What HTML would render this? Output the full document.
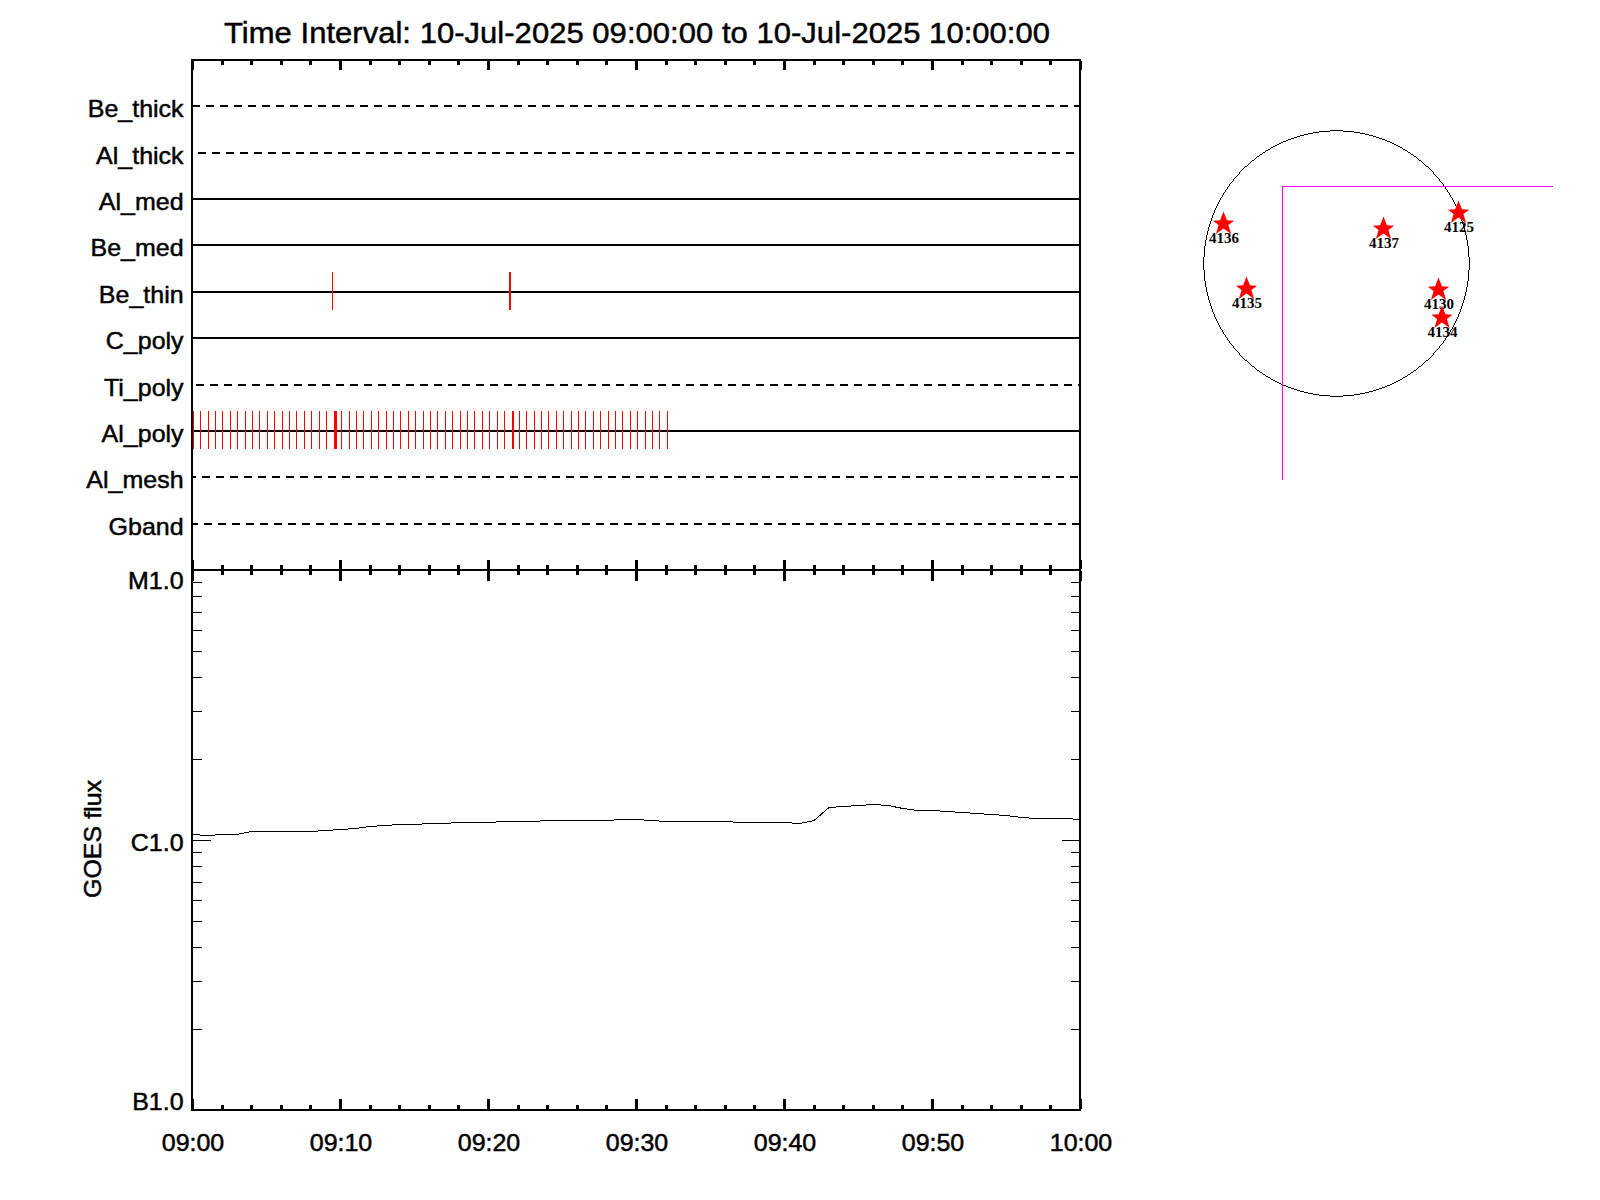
<!DOCTYPE html>
<html><head><meta charset="utf-8"><title>plot</title>
<style>html,body{margin:0;padding:0;background:#fff;width:1600px;height:1200px;overflow:hidden}svg{display:block}</style>
</head><body>
<svg width="1600" height="1200" viewBox="0 0 1600 1200">
<rect x="0" y="0" width="1600" height="1200" fill="#fff"/>
<text transform="translate(224,43) scale(1,0.955)" font-family="Liberation Sans, sans-serif" stroke="#000" stroke-width="0.5" font-size="31" text-anchor="start" textLength="826" lengthAdjust="spacing">Time Interval: 10-Jul-2025 09:00:00 to 10-Jul-2025 10:00:00</text>
<rect x="191" y="59" width="890" height="2" fill="#000"/>
<rect x="191" y="59" width="2" height="1052" fill="#000"/>
<rect x="1079" y="59" width="2" height="1052" fill="#000"/>
<rect x="192" y="569" width="889" height="2" fill="#000"/>
<rect x="192" y="1109" width="889" height="2" fill="#000"/>
<rect x="191" y="61" width="3" height="9" fill="#000"/>
<rect x="191" y="560" width="3" height="9" fill="#000"/>
<rect x="191" y="571" width="3" height="10" fill="#000"/>
<rect x="191" y="1099" width="3" height="10" fill="#000"/>
<rect x="221" y="61" width="3" height="4" fill="#000"/>
<rect x="221" y="565" width="3" height="4" fill="#000"/>
<rect x="221" y="571" width="3" height="4" fill="#000"/>
<rect x="221" y="1105" width="3" height="4" fill="#000"/>
<rect x="250" y="61" width="3" height="4" fill="#000"/>
<rect x="250" y="565" width="3" height="4" fill="#000"/>
<rect x="250" y="571" width="3" height="4" fill="#000"/>
<rect x="250" y="1105" width="3" height="4" fill="#000"/>
<rect x="280" y="61" width="3" height="4" fill="#000"/>
<rect x="280" y="565" width="3" height="4" fill="#000"/>
<rect x="280" y="571" width="3" height="4" fill="#000"/>
<rect x="280" y="1105" width="3" height="4" fill="#000"/>
<rect x="309" y="61" width="3" height="4" fill="#000"/>
<rect x="309" y="565" width="3" height="4" fill="#000"/>
<rect x="309" y="571" width="3" height="4" fill="#000"/>
<rect x="309" y="1105" width="3" height="4" fill="#000"/>
<rect x="339" y="61" width="3" height="9" fill="#000"/>
<rect x="339" y="560" width="3" height="9" fill="#000"/>
<rect x="339" y="571" width="3" height="10" fill="#000"/>
<rect x="339" y="1099" width="3" height="10" fill="#000"/>
<rect x="369" y="61" width="3" height="4" fill="#000"/>
<rect x="369" y="565" width="3" height="4" fill="#000"/>
<rect x="369" y="571" width="3" height="4" fill="#000"/>
<rect x="369" y="1105" width="3" height="4" fill="#000"/>
<rect x="398" y="61" width="3" height="4" fill="#000"/>
<rect x="398" y="565" width="3" height="4" fill="#000"/>
<rect x="398" y="571" width="3" height="4" fill="#000"/>
<rect x="398" y="1105" width="3" height="4" fill="#000"/>
<rect x="428" y="61" width="3" height="4" fill="#000"/>
<rect x="428" y="565" width="3" height="4" fill="#000"/>
<rect x="428" y="571" width="3" height="4" fill="#000"/>
<rect x="428" y="1105" width="3" height="4" fill="#000"/>
<rect x="457" y="61" width="3" height="4" fill="#000"/>
<rect x="457" y="565" width="3" height="4" fill="#000"/>
<rect x="457" y="571" width="3" height="4" fill="#000"/>
<rect x="457" y="1105" width="3" height="4" fill="#000"/>
<rect x="487" y="61" width="3" height="9" fill="#000"/>
<rect x="487" y="560" width="3" height="9" fill="#000"/>
<rect x="487" y="571" width="3" height="10" fill="#000"/>
<rect x="487" y="1099" width="3" height="10" fill="#000"/>
<rect x="517" y="61" width="3" height="4" fill="#000"/>
<rect x="517" y="565" width="3" height="4" fill="#000"/>
<rect x="517" y="571" width="3" height="4" fill="#000"/>
<rect x="517" y="1105" width="3" height="4" fill="#000"/>
<rect x="546" y="61" width="3" height="4" fill="#000"/>
<rect x="546" y="565" width="3" height="4" fill="#000"/>
<rect x="546" y="571" width="3" height="4" fill="#000"/>
<rect x="546" y="1105" width="3" height="4" fill="#000"/>
<rect x="576" y="61" width="3" height="4" fill="#000"/>
<rect x="576" y="565" width="3" height="4" fill="#000"/>
<rect x="576" y="571" width="3" height="4" fill="#000"/>
<rect x="576" y="1105" width="3" height="4" fill="#000"/>
<rect x="605" y="61" width="3" height="4" fill="#000"/>
<rect x="605" y="565" width="3" height="4" fill="#000"/>
<rect x="605" y="571" width="3" height="4" fill="#000"/>
<rect x="605" y="1105" width="3" height="4" fill="#000"/>
<rect x="635" y="61" width="3" height="9" fill="#000"/>
<rect x="635" y="560" width="3" height="9" fill="#000"/>
<rect x="635" y="571" width="3" height="10" fill="#000"/>
<rect x="635" y="1099" width="3" height="10" fill="#000"/>
<rect x="665" y="61" width="3" height="4" fill="#000"/>
<rect x="665" y="565" width="3" height="4" fill="#000"/>
<rect x="665" y="571" width="3" height="4" fill="#000"/>
<rect x="665" y="1105" width="3" height="4" fill="#000"/>
<rect x="694" y="61" width="3" height="4" fill="#000"/>
<rect x="694" y="565" width="3" height="4" fill="#000"/>
<rect x="694" y="571" width="3" height="4" fill="#000"/>
<rect x="694" y="1105" width="3" height="4" fill="#000"/>
<rect x="724" y="61" width="3" height="4" fill="#000"/>
<rect x="724" y="565" width="3" height="4" fill="#000"/>
<rect x="724" y="571" width="3" height="4" fill="#000"/>
<rect x="724" y="1105" width="3" height="4" fill="#000"/>
<rect x="753" y="61" width="3" height="4" fill="#000"/>
<rect x="753" y="565" width="3" height="4" fill="#000"/>
<rect x="753" y="571" width="3" height="4" fill="#000"/>
<rect x="753" y="1105" width="3" height="4" fill="#000"/>
<rect x="783" y="61" width="3" height="9" fill="#000"/>
<rect x="783" y="560" width="3" height="9" fill="#000"/>
<rect x="783" y="571" width="3" height="10" fill="#000"/>
<rect x="783" y="1099" width="3" height="10" fill="#000"/>
<rect x="813" y="61" width="3" height="4" fill="#000"/>
<rect x="813" y="565" width="3" height="4" fill="#000"/>
<rect x="813" y="571" width="3" height="4" fill="#000"/>
<rect x="813" y="1105" width="3" height="4" fill="#000"/>
<rect x="842" y="61" width="3" height="4" fill="#000"/>
<rect x="842" y="565" width="3" height="4" fill="#000"/>
<rect x="842" y="571" width="3" height="4" fill="#000"/>
<rect x="842" y="1105" width="3" height="4" fill="#000"/>
<rect x="872" y="61" width="3" height="4" fill="#000"/>
<rect x="872" y="565" width="3" height="4" fill="#000"/>
<rect x="872" y="571" width="3" height="4" fill="#000"/>
<rect x="872" y="1105" width="3" height="4" fill="#000"/>
<rect x="901" y="61" width="3" height="4" fill="#000"/>
<rect x="901" y="565" width="3" height="4" fill="#000"/>
<rect x="901" y="571" width="3" height="4" fill="#000"/>
<rect x="901" y="1105" width="3" height="4" fill="#000"/>
<rect x="931" y="61" width="3" height="9" fill="#000"/>
<rect x="931" y="560" width="3" height="9" fill="#000"/>
<rect x="931" y="571" width="3" height="10" fill="#000"/>
<rect x="931" y="1099" width="3" height="10" fill="#000"/>
<rect x="961" y="61" width="3" height="4" fill="#000"/>
<rect x="961" y="565" width="3" height="4" fill="#000"/>
<rect x="961" y="571" width="3" height="4" fill="#000"/>
<rect x="961" y="1105" width="3" height="4" fill="#000"/>
<rect x="990" y="61" width="3" height="4" fill="#000"/>
<rect x="990" y="565" width="3" height="4" fill="#000"/>
<rect x="990" y="571" width="3" height="4" fill="#000"/>
<rect x="990" y="1105" width="3" height="4" fill="#000"/>
<rect x="1020" y="61" width="3" height="4" fill="#000"/>
<rect x="1020" y="565" width="3" height="4" fill="#000"/>
<rect x="1020" y="571" width="3" height="4" fill="#000"/>
<rect x="1020" y="1105" width="3" height="4" fill="#000"/>
<rect x="1049" y="61" width="3" height="4" fill="#000"/>
<rect x="1049" y="565" width="3" height="4" fill="#000"/>
<rect x="1049" y="571" width="3" height="4" fill="#000"/>
<rect x="1049" y="1105" width="3" height="4" fill="#000"/>
<rect x="1079" y="61" width="3" height="9" fill="#000"/>
<rect x="1079" y="560" width="3" height="9" fill="#000"/>
<rect x="1079" y="571" width="3" height="10" fill="#000"/>
<rect x="1079" y="1099" width="3" height="10" fill="#000"/>
<rect x="193" y="105" width="7" height="2" fill="#000"/>
<rect x="206" y="105" width="8" height="2" fill="#000"/>
<rect x="220" y="105" width="8" height="2" fill="#000"/>
<rect x="234" y="105" width="8" height="2" fill="#000"/>
<rect x="248" y="105" width="8" height="2" fill="#000"/>
<rect x="262" y="105" width="8" height="2" fill="#000"/>
<rect x="276" y="105" width="8" height="2" fill="#000"/>
<rect x="290" y="105" width="8" height="2" fill="#000"/>
<rect x="304" y="105" width="8" height="2" fill="#000"/>
<rect x="318" y="105" width="8" height="2" fill="#000"/>
<rect x="332" y="105" width="8" height="2" fill="#000"/>
<rect x="346" y="105" width="8" height="2" fill="#000"/>
<rect x="360" y="105" width="8" height="2" fill="#000"/>
<rect x="374" y="105" width="8" height="2" fill="#000"/>
<rect x="388" y="105" width="8" height="2" fill="#000"/>
<rect x="402" y="105" width="8" height="2" fill="#000"/>
<rect x="416" y="105" width="8" height="2" fill="#000"/>
<rect x="430" y="105" width="8" height="2" fill="#000"/>
<rect x="444" y="105" width="8" height="2" fill="#000"/>
<rect x="458" y="105" width="8" height="2" fill="#000"/>
<rect x="472" y="105" width="8" height="2" fill="#000"/>
<rect x="486" y="105" width="8" height="2" fill="#000"/>
<rect x="500" y="105" width="8" height="2" fill="#000"/>
<rect x="514" y="105" width="8" height="2" fill="#000"/>
<rect x="528" y="105" width="8" height="2" fill="#000"/>
<rect x="542" y="105" width="8" height="2" fill="#000"/>
<rect x="556" y="105" width="8" height="2" fill="#000"/>
<rect x="570" y="105" width="8" height="2" fill="#000"/>
<rect x="584" y="105" width="8" height="2" fill="#000"/>
<rect x="598" y="105" width="8" height="2" fill="#000"/>
<rect x="612" y="105" width="8" height="2" fill="#000"/>
<rect x="626" y="105" width="8" height="2" fill="#000"/>
<rect x="640" y="105" width="8" height="2" fill="#000"/>
<rect x="654" y="105" width="8" height="2" fill="#000"/>
<rect x="668" y="105" width="8" height="2" fill="#000"/>
<rect x="682" y="105" width="8" height="2" fill="#000"/>
<rect x="696" y="105" width="8" height="2" fill="#000"/>
<rect x="710" y="105" width="8" height="2" fill="#000"/>
<rect x="724" y="105" width="8" height="2" fill="#000"/>
<rect x="738" y="105" width="8" height="2" fill="#000"/>
<rect x="752" y="105" width="8" height="2" fill="#000"/>
<rect x="766" y="105" width="8" height="2" fill="#000"/>
<rect x="780" y="105" width="8" height="2" fill="#000"/>
<rect x="794" y="105" width="8" height="2" fill="#000"/>
<rect x="808" y="105" width="8" height="2" fill="#000"/>
<rect x="822" y="105" width="8" height="2" fill="#000"/>
<rect x="836" y="105" width="8" height="2" fill="#000"/>
<rect x="850" y="105" width="8" height="2" fill="#000"/>
<rect x="864" y="105" width="8" height="2" fill="#000"/>
<rect x="878" y="105" width="8" height="2" fill="#000"/>
<rect x="892" y="105" width="8" height="2" fill="#000"/>
<rect x="906" y="105" width="8" height="2" fill="#000"/>
<rect x="920" y="105" width="8" height="2" fill="#000"/>
<rect x="934" y="105" width="8" height="2" fill="#000"/>
<rect x="948" y="105" width="8" height="2" fill="#000"/>
<rect x="962" y="105" width="8" height="2" fill="#000"/>
<rect x="976" y="105" width="8" height="2" fill="#000"/>
<rect x="990" y="105" width="8" height="2" fill="#000"/>
<rect x="1004" y="105" width="8" height="2" fill="#000"/>
<rect x="1018" y="105" width="8" height="2" fill="#000"/>
<rect x="1032" y="105" width="8" height="2" fill="#000"/>
<rect x="1046" y="105" width="8" height="2" fill="#000"/>
<rect x="1060" y="105" width="8" height="2" fill="#000"/>
<rect x="1074" y="105" width="5" height="2" fill="#000"/>
<text transform="translate(183.6,117) scale(1,0.955)" font-family="Liberation Sans, sans-serif" stroke="#000" stroke-width="0.5" font-size="25" text-anchor="end" >Be_thick</text>
<rect x="198" y="152" width="8" height="2" fill="#000"/>
<rect x="212" y="152" width="8" height="2" fill="#000"/>
<rect x="226" y="152" width="8" height="2" fill="#000"/>
<rect x="240" y="152" width="8" height="2" fill="#000"/>
<rect x="254" y="152" width="8" height="2" fill="#000"/>
<rect x="268" y="152" width="8" height="2" fill="#000"/>
<rect x="282" y="152" width="8" height="2" fill="#000"/>
<rect x="296" y="152" width="8" height="2" fill="#000"/>
<rect x="310" y="152" width="8" height="2" fill="#000"/>
<rect x="324" y="152" width="8" height="2" fill="#000"/>
<rect x="338" y="152" width="8" height="2" fill="#000"/>
<rect x="352" y="152" width="8" height="2" fill="#000"/>
<rect x="366" y="152" width="8" height="2" fill="#000"/>
<rect x="380" y="152" width="8" height="2" fill="#000"/>
<rect x="394" y="152" width="8" height="2" fill="#000"/>
<rect x="408" y="152" width="8" height="2" fill="#000"/>
<rect x="422" y="152" width="8" height="2" fill="#000"/>
<rect x="436" y="152" width="8" height="2" fill="#000"/>
<rect x="450" y="152" width="8" height="2" fill="#000"/>
<rect x="464" y="152" width="8" height="2" fill="#000"/>
<rect x="478" y="152" width="8" height="2" fill="#000"/>
<rect x="492" y="152" width="8" height="2" fill="#000"/>
<rect x="506" y="152" width="8" height="2" fill="#000"/>
<rect x="520" y="152" width="8" height="2" fill="#000"/>
<rect x="534" y="152" width="8" height="2" fill="#000"/>
<rect x="548" y="152" width="8" height="2" fill="#000"/>
<rect x="562" y="152" width="8" height="2" fill="#000"/>
<rect x="576" y="152" width="8" height="2" fill="#000"/>
<rect x="590" y="152" width="8" height="2" fill="#000"/>
<rect x="604" y="152" width="8" height="2" fill="#000"/>
<rect x="618" y="152" width="8" height="2" fill="#000"/>
<rect x="632" y="152" width="8" height="2" fill="#000"/>
<rect x="646" y="152" width="8" height="2" fill="#000"/>
<rect x="660" y="152" width="8" height="2" fill="#000"/>
<rect x="674" y="152" width="8" height="2" fill="#000"/>
<rect x="688" y="152" width="8" height="2" fill="#000"/>
<rect x="702" y="152" width="8" height="2" fill="#000"/>
<rect x="716" y="152" width="8" height="2" fill="#000"/>
<rect x="730" y="152" width="8" height="2" fill="#000"/>
<rect x="744" y="152" width="8" height="2" fill="#000"/>
<rect x="758" y="152" width="8" height="2" fill="#000"/>
<rect x="772" y="152" width="8" height="2" fill="#000"/>
<rect x="786" y="152" width="8" height="2" fill="#000"/>
<rect x="800" y="152" width="8" height="2" fill="#000"/>
<rect x="814" y="152" width="8" height="2" fill="#000"/>
<rect x="828" y="152" width="8" height="2" fill="#000"/>
<rect x="842" y="152" width="8" height="2" fill="#000"/>
<rect x="856" y="152" width="8" height="2" fill="#000"/>
<rect x="870" y="152" width="8" height="2" fill="#000"/>
<rect x="884" y="152" width="8" height="2" fill="#000"/>
<rect x="898" y="152" width="8" height="2" fill="#000"/>
<rect x="912" y="152" width="8" height="2" fill="#000"/>
<rect x="926" y="152" width="8" height="2" fill="#000"/>
<rect x="940" y="152" width="8" height="2" fill="#000"/>
<rect x="954" y="152" width="8" height="2" fill="#000"/>
<rect x="968" y="152" width="8" height="2" fill="#000"/>
<rect x="982" y="152" width="8" height="2" fill="#000"/>
<rect x="996" y="152" width="8" height="2" fill="#000"/>
<rect x="1010" y="152" width="8" height="2" fill="#000"/>
<rect x="1024" y="152" width="8" height="2" fill="#000"/>
<rect x="1038" y="152" width="8" height="2" fill="#000"/>
<rect x="1052" y="152" width="8" height="2" fill="#000"/>
<rect x="1066" y="152" width="8" height="2" fill="#000"/>
<text transform="translate(183.6,164) scale(1,0.955)" font-family="Liberation Sans, sans-serif" stroke="#000" stroke-width="0.5" font-size="25" text-anchor="end" >Al_thick</text>
<rect x="193" y="198" width="886" height="2" fill="#000"/>
<text transform="translate(183.6,210) scale(1,0.955)" font-family="Liberation Sans, sans-serif" stroke="#000" stroke-width="0.5" font-size="25" text-anchor="end" >Al_med</text>
<rect x="193" y="244" width="886" height="2" fill="#000"/>
<text transform="translate(183.6,256) scale(1,0.955)" font-family="Liberation Sans, sans-serif" stroke="#000" stroke-width="0.5" font-size="25" text-anchor="end" >Be_med</text>
<rect x="193" y="291" width="886" height="2" fill="#000"/>
<text transform="translate(183.6,303) scale(1,0.955)" font-family="Liberation Sans, sans-serif" stroke="#000" stroke-width="0.5" font-size="25" text-anchor="end" >Be_thin</text>
<rect x="193" y="337" width="886" height="2" fill="#000"/>
<text transform="translate(183.6,349) scale(1,0.955)" font-family="Liberation Sans, sans-serif" stroke="#000" stroke-width="0.5" font-size="25" text-anchor="end" >C_poly</text>
<rect x="196" y="384" width="8" height="2" fill="#000"/>
<rect x="210" y="384" width="8" height="2" fill="#000"/>
<rect x="224" y="384" width="8" height="2" fill="#000"/>
<rect x="238" y="384" width="8" height="2" fill="#000"/>
<rect x="252" y="384" width="8" height="2" fill="#000"/>
<rect x="266" y="384" width="8" height="2" fill="#000"/>
<rect x="280" y="384" width="8" height="2" fill="#000"/>
<rect x="294" y="384" width="8" height="2" fill="#000"/>
<rect x="308" y="384" width="8" height="2" fill="#000"/>
<rect x="322" y="384" width="8" height="2" fill="#000"/>
<rect x="336" y="384" width="8" height="2" fill="#000"/>
<rect x="350" y="384" width="8" height="2" fill="#000"/>
<rect x="364" y="384" width="8" height="2" fill="#000"/>
<rect x="378" y="384" width="8" height="2" fill="#000"/>
<rect x="392" y="384" width="8" height="2" fill="#000"/>
<rect x="406" y="384" width="8" height="2" fill="#000"/>
<rect x="420" y="384" width="8" height="2" fill="#000"/>
<rect x="434" y="384" width="8" height="2" fill="#000"/>
<rect x="448" y="384" width="8" height="2" fill="#000"/>
<rect x="462" y="384" width="8" height="2" fill="#000"/>
<rect x="476" y="384" width="8" height="2" fill="#000"/>
<rect x="490" y="384" width="8" height="2" fill="#000"/>
<rect x="504" y="384" width="8" height="2" fill="#000"/>
<rect x="518" y="384" width="8" height="2" fill="#000"/>
<rect x="532" y="384" width="8" height="2" fill="#000"/>
<rect x="546" y="384" width="8" height="2" fill="#000"/>
<rect x="560" y="384" width="8" height="2" fill="#000"/>
<rect x="574" y="384" width="8" height="2" fill="#000"/>
<rect x="588" y="384" width="8" height="2" fill="#000"/>
<rect x="602" y="384" width="8" height="2" fill="#000"/>
<rect x="616" y="384" width="8" height="2" fill="#000"/>
<rect x="630" y="384" width="8" height="2" fill="#000"/>
<rect x="644" y="384" width="8" height="2" fill="#000"/>
<rect x="658" y="384" width="8" height="2" fill="#000"/>
<rect x="672" y="384" width="8" height="2" fill="#000"/>
<rect x="686" y="384" width="8" height="2" fill="#000"/>
<rect x="700" y="384" width="8" height="2" fill="#000"/>
<rect x="714" y="384" width="8" height="2" fill="#000"/>
<rect x="728" y="384" width="8" height="2" fill="#000"/>
<rect x="742" y="384" width="8" height="2" fill="#000"/>
<rect x="756" y="384" width="8" height="2" fill="#000"/>
<rect x="770" y="384" width="8" height="2" fill="#000"/>
<rect x="784" y="384" width="8" height="2" fill="#000"/>
<rect x="798" y="384" width="8" height="2" fill="#000"/>
<rect x="812" y="384" width="8" height="2" fill="#000"/>
<rect x="826" y="384" width="8" height="2" fill="#000"/>
<rect x="840" y="384" width="8" height="2" fill="#000"/>
<rect x="854" y="384" width="8" height="2" fill="#000"/>
<rect x="868" y="384" width="8" height="2" fill="#000"/>
<rect x="882" y="384" width="8" height="2" fill="#000"/>
<rect x="896" y="384" width="8" height="2" fill="#000"/>
<rect x="910" y="384" width="8" height="2" fill="#000"/>
<rect x="924" y="384" width="8" height="2" fill="#000"/>
<rect x="938" y="384" width="8" height="2" fill="#000"/>
<rect x="952" y="384" width="8" height="2" fill="#000"/>
<rect x="966" y="384" width="8" height="2" fill="#000"/>
<rect x="980" y="384" width="8" height="2" fill="#000"/>
<rect x="994" y="384" width="8" height="2" fill="#000"/>
<rect x="1008" y="384" width="8" height="2" fill="#000"/>
<rect x="1022" y="384" width="8" height="2" fill="#000"/>
<rect x="1036" y="384" width="8" height="2" fill="#000"/>
<rect x="1050" y="384" width="8" height="2" fill="#000"/>
<rect x="1064" y="384" width="8" height="2" fill="#000"/>
<rect x="1078" y="384" width="1" height="2" fill="#000"/>
<text transform="translate(183.6,396) scale(1,0.955)" font-family="Liberation Sans, sans-serif" stroke="#000" stroke-width="0.5" font-size="25" text-anchor="end" >Ti_poly</text>
<rect x="193" y="430" width="886" height="2" fill="#000"/>
<text transform="translate(183.6,442) scale(1,0.955)" font-family="Liberation Sans, sans-serif" stroke="#000" stroke-width="0.5" font-size="25" text-anchor="end" >Al_poly</text>
<rect x="193" y="476" width="3" height="2" fill="#000"/>
<rect x="202" y="476" width="8" height="2" fill="#000"/>
<rect x="216" y="476" width="8" height="2" fill="#000"/>
<rect x="230" y="476" width="8" height="2" fill="#000"/>
<rect x="244" y="476" width="8" height="2" fill="#000"/>
<rect x="258" y="476" width="8" height="2" fill="#000"/>
<rect x="272" y="476" width="8" height="2" fill="#000"/>
<rect x="286" y="476" width="8" height="2" fill="#000"/>
<rect x="300" y="476" width="8" height="2" fill="#000"/>
<rect x="314" y="476" width="8" height="2" fill="#000"/>
<rect x="328" y="476" width="8" height="2" fill="#000"/>
<rect x="342" y="476" width="8" height="2" fill="#000"/>
<rect x="356" y="476" width="8" height="2" fill="#000"/>
<rect x="370" y="476" width="8" height="2" fill="#000"/>
<rect x="384" y="476" width="8" height="2" fill="#000"/>
<rect x="398" y="476" width="8" height="2" fill="#000"/>
<rect x="412" y="476" width="8" height="2" fill="#000"/>
<rect x="426" y="476" width="8" height="2" fill="#000"/>
<rect x="440" y="476" width="8" height="2" fill="#000"/>
<rect x="454" y="476" width="8" height="2" fill="#000"/>
<rect x="468" y="476" width="8" height="2" fill="#000"/>
<rect x="482" y="476" width="8" height="2" fill="#000"/>
<rect x="496" y="476" width="8" height="2" fill="#000"/>
<rect x="510" y="476" width="8" height="2" fill="#000"/>
<rect x="524" y="476" width="8" height="2" fill="#000"/>
<rect x="538" y="476" width="8" height="2" fill="#000"/>
<rect x="552" y="476" width="8" height="2" fill="#000"/>
<rect x="566" y="476" width="8" height="2" fill="#000"/>
<rect x="580" y="476" width="8" height="2" fill="#000"/>
<rect x="594" y="476" width="8" height="2" fill="#000"/>
<rect x="608" y="476" width="8" height="2" fill="#000"/>
<rect x="622" y="476" width="8" height="2" fill="#000"/>
<rect x="636" y="476" width="8" height="2" fill="#000"/>
<rect x="650" y="476" width="8" height="2" fill="#000"/>
<rect x="664" y="476" width="8" height="2" fill="#000"/>
<rect x="678" y="476" width="8" height="2" fill="#000"/>
<rect x="692" y="476" width="8" height="2" fill="#000"/>
<rect x="706" y="476" width="8" height="2" fill="#000"/>
<rect x="720" y="476" width="8" height="2" fill="#000"/>
<rect x="734" y="476" width="8" height="2" fill="#000"/>
<rect x="748" y="476" width="8" height="2" fill="#000"/>
<rect x="762" y="476" width="8" height="2" fill="#000"/>
<rect x="776" y="476" width="8" height="2" fill="#000"/>
<rect x="790" y="476" width="8" height="2" fill="#000"/>
<rect x="804" y="476" width="8" height="2" fill="#000"/>
<rect x="818" y="476" width="8" height="2" fill="#000"/>
<rect x="832" y="476" width="8" height="2" fill="#000"/>
<rect x="846" y="476" width="8" height="2" fill="#000"/>
<rect x="860" y="476" width="8" height="2" fill="#000"/>
<rect x="874" y="476" width="8" height="2" fill="#000"/>
<rect x="888" y="476" width="8" height="2" fill="#000"/>
<rect x="902" y="476" width="8" height="2" fill="#000"/>
<rect x="916" y="476" width="8" height="2" fill="#000"/>
<rect x="930" y="476" width="8" height="2" fill="#000"/>
<rect x="944" y="476" width="8" height="2" fill="#000"/>
<rect x="958" y="476" width="8" height="2" fill="#000"/>
<rect x="972" y="476" width="8" height="2" fill="#000"/>
<rect x="986" y="476" width="8" height="2" fill="#000"/>
<rect x="1000" y="476" width="8" height="2" fill="#000"/>
<rect x="1014" y="476" width="8" height="2" fill="#000"/>
<rect x="1028" y="476" width="8" height="2" fill="#000"/>
<rect x="1042" y="476" width="8" height="2" fill="#000"/>
<rect x="1056" y="476" width="8" height="2" fill="#000"/>
<rect x="1070" y="476" width="8" height="2" fill="#000"/>
<text transform="translate(183.6,488) scale(1,0.955)" font-family="Liberation Sans, sans-serif" stroke="#000" stroke-width="0.5" font-size="25" text-anchor="end" >Al_mesh</text>
<rect x="193" y="523" width="5" height="2" fill="#000"/>
<rect x="204" y="523" width="8" height="2" fill="#000"/>
<rect x="218" y="523" width="8" height="2" fill="#000"/>
<rect x="232" y="523" width="8" height="2" fill="#000"/>
<rect x="246" y="523" width="8" height="2" fill="#000"/>
<rect x="260" y="523" width="8" height="2" fill="#000"/>
<rect x="274" y="523" width="8" height="2" fill="#000"/>
<rect x="288" y="523" width="8" height="2" fill="#000"/>
<rect x="302" y="523" width="8" height="2" fill="#000"/>
<rect x="316" y="523" width="8" height="2" fill="#000"/>
<rect x="330" y="523" width="8" height="2" fill="#000"/>
<rect x="344" y="523" width="8" height="2" fill="#000"/>
<rect x="358" y="523" width="8" height="2" fill="#000"/>
<rect x="372" y="523" width="8" height="2" fill="#000"/>
<rect x="386" y="523" width="8" height="2" fill="#000"/>
<rect x="400" y="523" width="8" height="2" fill="#000"/>
<rect x="414" y="523" width="8" height="2" fill="#000"/>
<rect x="428" y="523" width="8" height="2" fill="#000"/>
<rect x="442" y="523" width="8" height="2" fill="#000"/>
<rect x="456" y="523" width="8" height="2" fill="#000"/>
<rect x="470" y="523" width="8" height="2" fill="#000"/>
<rect x="484" y="523" width="8" height="2" fill="#000"/>
<rect x="498" y="523" width="8" height="2" fill="#000"/>
<rect x="512" y="523" width="8" height="2" fill="#000"/>
<rect x="526" y="523" width="8" height="2" fill="#000"/>
<rect x="540" y="523" width="8" height="2" fill="#000"/>
<rect x="554" y="523" width="8" height="2" fill="#000"/>
<rect x="568" y="523" width="8" height="2" fill="#000"/>
<rect x="582" y="523" width="8" height="2" fill="#000"/>
<rect x="596" y="523" width="8" height="2" fill="#000"/>
<rect x="610" y="523" width="8" height="2" fill="#000"/>
<rect x="624" y="523" width="8" height="2" fill="#000"/>
<rect x="638" y="523" width="8" height="2" fill="#000"/>
<rect x="652" y="523" width="8" height="2" fill="#000"/>
<rect x="666" y="523" width="8" height="2" fill="#000"/>
<rect x="680" y="523" width="8" height="2" fill="#000"/>
<rect x="694" y="523" width="8" height="2" fill="#000"/>
<rect x="708" y="523" width="8" height="2" fill="#000"/>
<rect x="722" y="523" width="8" height="2" fill="#000"/>
<rect x="736" y="523" width="8" height="2" fill="#000"/>
<rect x="750" y="523" width="8" height="2" fill="#000"/>
<rect x="764" y="523" width="8" height="2" fill="#000"/>
<rect x="778" y="523" width="8" height="2" fill="#000"/>
<rect x="792" y="523" width="8" height="2" fill="#000"/>
<rect x="806" y="523" width="8" height="2" fill="#000"/>
<rect x="820" y="523" width="8" height="2" fill="#000"/>
<rect x="834" y="523" width="8" height="2" fill="#000"/>
<rect x="848" y="523" width="8" height="2" fill="#000"/>
<rect x="862" y="523" width="8" height="2" fill="#000"/>
<rect x="876" y="523" width="8" height="2" fill="#000"/>
<rect x="890" y="523" width="8" height="2" fill="#000"/>
<rect x="904" y="523" width="8" height="2" fill="#000"/>
<rect x="918" y="523" width="8" height="2" fill="#000"/>
<rect x="932" y="523" width="8" height="2" fill="#000"/>
<rect x="946" y="523" width="8" height="2" fill="#000"/>
<rect x="960" y="523" width="8" height="2" fill="#000"/>
<rect x="974" y="523" width="8" height="2" fill="#000"/>
<rect x="988" y="523" width="8" height="2" fill="#000"/>
<rect x="1002" y="523" width="8" height="2" fill="#000"/>
<rect x="1016" y="523" width="8" height="2" fill="#000"/>
<rect x="1030" y="523" width="8" height="2" fill="#000"/>
<rect x="1044" y="523" width="8" height="2" fill="#000"/>
<rect x="1058" y="523" width="8" height="2" fill="#000"/>
<rect x="1072" y="523" width="7" height="2" fill="#000"/>
<text transform="translate(183.6,535) scale(1,0.955)" font-family="Liberation Sans, sans-serif" stroke="#000" stroke-width="0.5" font-size="25" text-anchor="end" >Gband</text>
<rect x="332" y="272" width="1" height="38" fill="#f00"/>
<rect x="509" y="272" width="2" height="38" fill="#f00"/>
<rect x="193" y="411" width="1" height="38" fill="#f00"/>
<rect x="200" y="411" width="1" height="38" fill="#f00"/>
<rect x="208" y="411" width="1" height="38" fill="#f00"/>
<rect x="215" y="411" width="1" height="38" fill="#f00"/>
<rect x="222" y="411" width="1" height="38" fill="#f00"/>
<rect x="230" y="411" width="1" height="38" fill="#f00"/>
<rect x="237" y="411" width="1" height="38" fill="#f00"/>
<rect x="245" y="411" width="1" height="38" fill="#f00"/>
<rect x="252" y="411" width="1" height="38" fill="#f00"/>
<rect x="259" y="411" width="1" height="38" fill="#f00"/>
<rect x="267" y="411" width="1" height="38" fill="#f00"/>
<rect x="274" y="411" width="1" height="38" fill="#f00"/>
<rect x="282" y="411" width="1" height="38" fill="#f00"/>
<rect x="289" y="411" width="1" height="38" fill="#f00"/>
<rect x="296" y="411" width="1" height="38" fill="#f00"/>
<rect x="304" y="411" width="1" height="38" fill="#f00"/>
<rect x="311" y="411" width="1" height="38" fill="#f00"/>
<rect x="319" y="411" width="1" height="38" fill="#f00"/>
<rect x="326" y="411" width="1" height="38" fill="#f00"/>
<rect x="341" y="411" width="1" height="38" fill="#f00"/>
<rect x="349" y="411" width="1" height="38" fill="#f00"/>
<rect x="356" y="411" width="1" height="38" fill="#f00"/>
<rect x="363" y="411" width="1" height="38" fill="#f00"/>
<rect x="371" y="411" width="1" height="38" fill="#f00"/>
<rect x="378" y="411" width="1" height="38" fill="#f00"/>
<rect x="386" y="411" width="1" height="38" fill="#f00"/>
<rect x="393" y="411" width="1" height="38" fill="#f00"/>
<rect x="400" y="411" width="1" height="38" fill="#f00"/>
<rect x="408" y="411" width="1" height="38" fill="#f00"/>
<rect x="415" y="411" width="1" height="38" fill="#f00"/>
<rect x="423" y="411" width="1" height="38" fill="#f00"/>
<rect x="430" y="411" width="1" height="38" fill="#f00"/>
<rect x="437" y="411" width="1" height="38" fill="#f00"/>
<rect x="445" y="411" width="1" height="38" fill="#f00"/>
<rect x="452" y="411" width="1" height="38" fill="#f00"/>
<rect x="460" y="411" width="1" height="38" fill="#f00"/>
<rect x="467" y="411" width="1" height="38" fill="#f00"/>
<rect x="474" y="411" width="1" height="38" fill="#f00"/>
<rect x="482" y="411" width="1" height="38" fill="#f00"/>
<rect x="489" y="411" width="1" height="38" fill="#f00"/>
<rect x="497" y="411" width="1" height="38" fill="#f00"/>
<rect x="504" y="411" width="1" height="38" fill="#f00"/>
<rect x="519" y="411" width="1" height="38" fill="#f00"/>
<rect x="526" y="411" width="1" height="38" fill="#f00"/>
<rect x="534" y="411" width="1" height="38" fill="#f00"/>
<rect x="541" y="411" width="1" height="38" fill="#f00"/>
<rect x="548" y="411" width="1" height="38" fill="#f00"/>
<rect x="556" y="411" width="1" height="38" fill="#f00"/>
<rect x="563" y="411" width="1" height="38" fill="#f00"/>
<rect x="571" y="411" width="1" height="38" fill="#f00"/>
<rect x="578" y="411" width="1" height="38" fill="#f00"/>
<rect x="585" y="411" width="1" height="38" fill="#f00"/>
<rect x="593" y="411" width="1" height="38" fill="#f00"/>
<rect x="600" y="411" width="1" height="38" fill="#f00"/>
<rect x="608" y="411" width="1" height="38" fill="#f00"/>
<rect x="615" y="411" width="1" height="38" fill="#f00"/>
<rect x="622" y="411" width="1" height="38" fill="#f00"/>
<rect x="630" y="411" width="1" height="38" fill="#f00"/>
<rect x="637" y="411" width="1" height="38" fill="#f00"/>
<rect x="645" y="411" width="1" height="38" fill="#f00"/>
<rect x="652" y="411" width="1" height="38" fill="#f00"/>
<rect x="659" y="411" width="1" height="38" fill="#f00"/>
<rect x="667" y="411" width="1" height="38" fill="#f00"/>
<rect x="334" y="411" width="3" height="38" fill="#f00"/>
<rect x="512" y="411" width="2" height="38" fill="#f00"/>
<rect x="193" y="1029" width="9" height="1" fill="#000"/>
<rect x="1071" y="1029" width="8" height="1" fill="#000"/>
<rect x="193" y="981" width="9" height="1" fill="#000"/>
<rect x="1071" y="981" width="8" height="1" fill="#000"/>
<rect x="193" y="947" width="9" height="1" fill="#000"/>
<rect x="1071" y="947" width="8" height="1" fill="#000"/>
<rect x="193" y="921" width="9" height="1" fill="#000"/>
<rect x="1071" y="921" width="8" height="1" fill="#000"/>
<rect x="193" y="900" width="9" height="1" fill="#000"/>
<rect x="1071" y="900" width="8" height="1" fill="#000"/>
<rect x="193" y="882" width="9" height="1" fill="#000"/>
<rect x="1071" y="882" width="8" height="1" fill="#000"/>
<rect x="193" y="866" width="9" height="1" fill="#000"/>
<rect x="1071" y="866" width="8" height="1" fill="#000"/>
<rect x="193" y="852" width="9" height="1" fill="#000"/>
<rect x="1071" y="852" width="8" height="1" fill="#000"/>
<rect x="193" y="759" width="9" height="1" fill="#000"/>
<rect x="1071" y="759" width="8" height="1" fill="#000"/>
<rect x="193" y="711" width="9" height="1" fill="#000"/>
<rect x="1071" y="711" width="8" height="1" fill="#000"/>
<rect x="193" y="677" width="9" height="1" fill="#000"/>
<rect x="1071" y="677" width="8" height="1" fill="#000"/>
<rect x="193" y="651" width="9" height="1" fill="#000"/>
<rect x="1071" y="651" width="8" height="1" fill="#000"/>
<rect x="193" y="630" width="9" height="1" fill="#000"/>
<rect x="1071" y="630" width="8" height="1" fill="#000"/>
<rect x="193" y="612" width="9" height="1" fill="#000"/>
<rect x="1071" y="612" width="8" height="1" fill="#000"/>
<rect x="193" y="596" width="9" height="1" fill="#000"/>
<rect x="1071" y="596" width="8" height="1" fill="#000"/>
<rect x="193" y="582" width="9" height="1" fill="#000"/>
<rect x="1071" y="582" width="8" height="1" fill="#000"/>
<rect x="193" y="840" width="18" height="1" fill="#000"/>
<rect x="1062" y="840" width="17" height="1" fill="#000"/>
<text transform="translate(183.6,589) scale(1,0.955)" font-family="Liberation Sans, sans-serif" stroke="#000" stroke-width="0.5" font-size="25" text-anchor="end" >M1.0</text>
<text transform="translate(183.6,851) scale(1,0.955)" font-family="Liberation Sans, sans-serif" stroke="#000" stroke-width="0.5" font-size="25" text-anchor="end" >C1.0</text>
<text transform="translate(183.6,1110) scale(1,0.955)" font-family="Liberation Sans, sans-serif" stroke="#000" stroke-width="0.5" font-size="25" text-anchor="end" >B1.0</text>
<text transform="translate(101.4,839) rotate(-90) scale(1,0.955)" font-family="Liberation Sans, sans-serif" stroke="#000" stroke-width="0.5" font-size="25" text-anchor="middle" >GOES flux</text>
<text transform="translate(193.0,1151.3) scale(1,0.955)" font-family="Liberation Sans, sans-serif" stroke="#000" stroke-width="0.5" font-size="25" text-anchor="middle" >09:00</text>
<text transform="translate(341.0,1151.3) scale(1,0.955)" font-family="Liberation Sans, sans-serif" stroke="#000" stroke-width="0.5" font-size="25" text-anchor="middle" >09:10</text>
<text transform="translate(489.0,1151.3) scale(1,0.955)" font-family="Liberation Sans, sans-serif" stroke="#000" stroke-width="0.5" font-size="25" text-anchor="middle" >09:20</text>
<text transform="translate(637.0,1151.3) scale(1,0.955)" font-family="Liberation Sans, sans-serif" stroke="#000" stroke-width="0.5" font-size="25" text-anchor="middle" >09:30</text>
<text transform="translate(785.0,1151.3) scale(1,0.955)" font-family="Liberation Sans, sans-serif" stroke="#000" stroke-width="0.5" font-size="25" text-anchor="middle" >09:40</text>
<text transform="translate(933.0,1151.3) scale(1,0.955)" font-family="Liberation Sans, sans-serif" stroke="#000" stroke-width="0.5" font-size="25" text-anchor="middle" >09:50</text>
<text transform="translate(1081.0,1151.3) scale(1,0.955)" font-family="Liberation Sans, sans-serif" stroke="#000" stroke-width="0.5" font-size="25" text-anchor="middle" >10:00</text>
<polyline points="192.50,834.5 207.30,835.5 222.10,834.5 236.90,834.5 251.70,831.5 266.50,831.5 281.30,831.5 296.10,831.5 310.90,831.5 325.70,830.5 340.50,829.5 355.30,828.5 370.10,826.5 384.90,825.5 399.70,824.5 414.50,824.5 429.30,823.5 444.10,823.5 458.90,822.5 473.70,822.5 488.50,822.5 503.30,821.5 518.10,821.5 532.90,821.5 547.70,820.5 562.50,820.5 577.30,820.5 592.10,820.5 606.90,820.5 621.70,819.5 636.50,819.5 651.30,820.5 666.10,821.5 680.90,821.5 695.70,821.5 710.50,821.5 725.30,821.5 740.10,822.5 754.90,822.5 769.70,822.5 784.50,822.5 799.30,823.5 814.10,820.5 828.90,807.5 843.70,806.5 858.50,805.5 873.30,804.5 888.10,805.5 902.90,808.5 917.70,810.5 932.50,810.5 947.30,811.5 962.10,812.5 976.90,813.5 991.70,814.5 1006.50,815.5 1021.30,817.5 1036.10,818.5 1050.90,818.5 1065.70,818.5 1080.50,819.5" fill="none" stroke="#000" stroke-width="1" shape-rendering="crispEdges"/>
<path d="M1330 130h13v1h-13zM1319 131h11v1h-11zM1343 131h11v1h-11zM1313 132h6v1h-6zM1354 132h6v1h-6zM1308 133h5v1h-5zM1360 133h5v1h-5zM1304 134h4v1h-4zM1365 134h4v1h-4zM1300 135h4v1h-4zM1369 135h4v1h-4zM1297 136h3v1h-3zM1373 136h3v1h-3zM1294 137h3v1h-3zM1376 137h3v1h-3zM1291 138h3v1h-3zM1379 138h3v1h-3zM1288 139h3v1h-3zM1382 139h3v1h-3zM1286 140h2v1h-2zM1385 140h2v1h-2zM1283 141h3v1h-3zM1387 141h3v1h-3zM1281 142h2v1h-2zM1390 142h2v1h-2zM1279 143h2v1h-2zM1392 143h2v1h-2zM1277 144h2v1h-2zM1394 144h2v1h-2zM1275 145h2v1h-2zM1396 145h2v1h-2zM1273 146h2v1h-2zM1398 146h2v1h-2zM1271 147h2v1h-2zM1400 147h2v1h-2zM1270 148h1v1h-1zM1402 148h1v1h-1zM1268 149h2v1h-2zM1403 149h2v1h-2zM1266 150h2v1h-2zM1405 150h2v1h-2zM1265 151h1v1h-1zM1407 151h1v1h-1zM1263 152h2v1h-2zM1408 152h2v1h-2zM1262 153h1v1h-1zM1410 153h1v1h-1zM1260 154h2v1h-2zM1411 154h2v1h-2zM1259 155h1v1h-1zM1413 155h1v1h-1zM1257 156h2v1h-2zM1414 156h2v1h-2zM1256 157h1v1h-1zM1416 157h1v1h-1zM1255 158h1v1h-1zM1417 158h1v1h-1zM1254 159h1v1h-1zM1418 159h1v1h-1zM1252 160h2v1h-2zM1419 160h2v1h-2zM1251 161h1v1h-1zM1421 161h1v1h-1zM1250 162h1v1h-1zM1422 162h1v1h-1zM1249 163h1v1h-1zM1423 163h1v1h-1zM1248 164h1v1h-1zM1424 164h1v1h-1zM1247 165h1v1h-1zM1425 165h1v1h-1zM1245 166h2v1h-2zM1426 166h2v1h-2zM1244 167h1v1h-1zM1428 167h1v1h-1zM1243 168h1v1h-1zM1429 168h1v1h-1zM1242 169h1v1h-1zM1430 169h1v1h-1zM1241 170h1v1h-1zM1431 170h1v1h-1zM1240 171h1v1h-1zM1432 171h1v1h-1zM1239 172h1v1h-1zM1433 172h1v1h-1zM1239 173h1v1h-1zM1433 173h1v1h-1zM1238 174h1v1h-1zM1434 174h1v1h-1zM1237 175h1v1h-1zM1435 175h1v1h-1zM1236 176h1v1h-1zM1436 176h1v1h-1zM1235 177h1v1h-1zM1437 177h1v1h-1zM1234 178h1v1h-1zM1438 178h1v1h-1zM1233 179h1v1h-1zM1439 179h1v1h-1zM1233 180h1v1h-1zM1439 180h1v1h-1zM1232 181h1v1h-1zM1440 181h1v1h-1zM1231 182h1v1h-1zM1441 182h1v1h-1zM1230 183h1v1h-1zM1442 183h1v1h-1zM1229 184h1v1h-1zM1443 184h1v1h-1zM1229 185h1v1h-1zM1443 185h1v1h-1zM1228 186h1v1h-1zM1444 186h1v1h-1zM1227 187h1v1h-1zM1445 187h1v1h-1zM1227 188h1v1h-1zM1445 188h1v1h-1zM1226 189h1v1h-1zM1446 189h1v1h-1zM1225 190h1v1h-1zM1447 190h1v1h-1zM1225 191h1v1h-1zM1447 191h1v1h-1zM1224 192h1v1h-1zM1448 192h1v1h-1zM1223 193h1v1h-1zM1449 193h1v1h-1zM1223 194h1v1h-1zM1449 194h1v1h-1zM1222 195h1v1h-1zM1450 195h1v1h-1zM1222 196h1v1h-1zM1450 196h1v1h-1zM1221 197h1v1h-1zM1451 197h1v1h-1zM1220 198h1v1h-1zM1452 198h1v1h-1zM1220 199h1v1h-1zM1452 199h1v1h-1zM1219 200h1v1h-1zM1453 200h1v1h-1zM1219 201h1v1h-1zM1453 201h1v1h-1zM1218 202h1v1h-1zM1454 202h1v1h-1zM1218 203h1v1h-1zM1454 203h1v1h-1zM1217 204h1v1h-1zM1455 204h1v1h-1zM1217 205h1v1h-1zM1455 205h1v1h-1zM1216 206h1v1h-1zM1456 206h1v1h-1zM1216 207h1v1h-1zM1456 207h1v1h-1zM1215 208h1v1h-1zM1457 208h1v1h-1zM1215 209h1v1h-1zM1457 209h1v1h-1zM1214 210h1v1h-1zM1458 210h1v1h-1zM1214 211h1v1h-1zM1458 211h1v1h-1zM1214 212h1v1h-1zM1458 212h1v1h-1zM1213 213h1v1h-1zM1459 213h1v1h-1zM1213 214h1v1h-1zM1459 214h1v1h-1zM1212 215h1v1h-1zM1460 215h1v1h-1zM1212 216h1v1h-1zM1460 216h1v1h-1zM1212 217h1v1h-1zM1460 217h1v1h-1zM1211 218h1v1h-1zM1461 218h1v1h-1zM1211 219h1v1h-1zM1461 219h1v1h-1zM1211 220h1v1h-1zM1461 220h1v1h-1zM1210 221h1v1h-1zM1462 221h1v1h-1zM1210 222h1v1h-1zM1462 222h1v1h-1zM1210 223h1v1h-1zM1462 223h1v1h-1zM1209 224h1v1h-1zM1463 224h1v1h-1zM1209 225h1v1h-1zM1463 225h1v1h-1zM1209 226h1v1h-1zM1463 226h1v1h-1zM1208 227h1v1h-1zM1464 227h1v1h-1zM1208 228h1v1h-1zM1464 228h1v1h-1zM1208 229h1v1h-1zM1464 229h1v1h-1zM1208 230h1v1h-1zM1464 230h1v1h-1zM1207 231h1v1h-1zM1465 231h1v1h-1zM1207 232h1v1h-1zM1465 232h1v1h-1zM1207 233h1v1h-1zM1465 233h1v1h-1zM1207 234h1v1h-1zM1465 234h1v1h-1zM1206 235h1v1h-1zM1466 235h1v1h-1zM1206 236h1v1h-1zM1466 236h1v1h-1zM1206 237h1v1h-1zM1466 237h1v1h-1zM1206 238h1v1h-1zM1466 238h1v1h-1zM1206 239h1v1h-1zM1466 239h1v1h-1zM1205 240h1v1h-1zM1467 240h1v1h-1zM1205 241h1v1h-1zM1467 241h1v1h-1zM1205 242h1v1h-1zM1467 242h1v1h-1zM1205 243h1v1h-1zM1467 243h1v1h-1zM1205 244h1v1h-1zM1467 244h1v1h-1zM1205 245h1v1h-1zM1467 245h1v1h-1zM1204 246h1v1h-1zM1468 246h1v1h-1zM1204 247h1v1h-1zM1468 247h1v1h-1zM1204 248h1v1h-1zM1468 248h1v1h-1zM1204 249h1v1h-1zM1468 249h1v1h-1zM1204 250h1v1h-1zM1468 250h1v1h-1zM1204 251h1v1h-1zM1468 251h1v1h-1zM1204 252h1v1h-1zM1468 252h1v1h-1zM1204 253h1v1h-1zM1468 253h1v1h-1zM1204 254h1v1h-1zM1468 254h1v1h-1zM1204 255h1v1h-1zM1468 255h1v1h-1zM1204 256h1v1h-1zM1468 256h1v1h-1zM1203 257h1v1h-1zM1469 257h1v1h-1zM1203 258h1v1h-1zM1469 258h1v1h-1zM1203 259h1v1h-1zM1469 259h1v1h-1zM1203 260h1v1h-1zM1469 260h1v1h-1zM1203 261h1v1h-1zM1469 261h1v1h-1zM1203 262h1v1h-1zM1469 262h1v1h-1zM1203 263h1v1h-1zM1469 263h1v1h-1zM1203 264h1v1h-1zM1469 264h1v1h-1zM1203 265h1v1h-1zM1469 265h1v1h-1zM1203 266h1v1h-1zM1469 266h1v1h-1zM1203 267h1v1h-1zM1469 267h1v1h-1zM1203 268h1v1h-1zM1469 268h1v1h-1zM1203 269h1v1h-1zM1469 269h1v1h-1zM1204 270h1v1h-1zM1468 270h1v1h-1zM1204 271h1v1h-1zM1468 271h1v1h-1zM1204 272h1v1h-1zM1468 272h1v1h-1zM1204 273h1v1h-1zM1468 273h1v1h-1zM1204 274h1v1h-1zM1468 274h1v1h-1zM1204 275h1v1h-1zM1468 275h1v1h-1zM1204 276h1v1h-1zM1468 276h1v1h-1zM1204 277h1v1h-1zM1468 277h1v1h-1zM1204 278h1v1h-1zM1468 278h1v1h-1zM1204 279h1v1h-1zM1468 279h1v1h-1zM1204 280h1v1h-1zM1468 280h1v1h-1zM1205 281h1v1h-1zM1467 281h1v1h-1zM1205 282h1v1h-1zM1467 282h1v1h-1zM1205 283h1v1h-1zM1467 283h1v1h-1zM1205 284h1v1h-1zM1467 284h1v1h-1zM1205 285h1v1h-1zM1467 285h1v1h-1zM1205 286h1v1h-1zM1467 286h1v1h-1zM1206 287h1v1h-1zM1466 287h1v1h-1zM1206 288h1v1h-1zM1466 288h1v1h-1zM1206 289h1v1h-1zM1466 289h1v1h-1zM1206 290h1v1h-1zM1466 290h1v1h-1zM1206 291h1v1h-1zM1466 291h1v1h-1zM1207 292h1v1h-1zM1465 292h1v1h-1zM1207 293h1v1h-1zM1465 293h1v1h-1zM1207 294h1v1h-1zM1465 294h1v1h-1zM1207 295h1v1h-1zM1465 295h1v1h-1zM1208 296h1v1h-1zM1464 296h1v1h-1zM1208 297h1v1h-1zM1464 297h1v1h-1zM1208 298h1v1h-1zM1464 298h1v1h-1zM1208 299h1v1h-1zM1464 299h1v1h-1zM1209 300h1v1h-1zM1463 300h1v1h-1zM1209 301h1v1h-1zM1463 301h1v1h-1zM1209 302h1v1h-1zM1463 302h1v1h-1zM1210 303h1v1h-1zM1462 303h1v1h-1zM1210 304h1v1h-1zM1462 304h1v1h-1zM1210 305h1v1h-1zM1462 305h1v1h-1zM1211 306h1v1h-1zM1461 306h1v1h-1zM1211 307h1v1h-1zM1461 307h1v1h-1zM1211 308h1v1h-1zM1461 308h1v1h-1zM1212 309h1v1h-1zM1460 309h1v1h-1zM1212 310h1v1h-1zM1460 310h1v1h-1zM1212 311h1v1h-1zM1460 311h1v1h-1zM1213 312h1v1h-1zM1459 312h1v1h-1zM1213 313h1v1h-1zM1459 313h1v1h-1zM1214 314h1v1h-1zM1458 314h1v1h-1zM1214 315h1v1h-1zM1458 315h1v1h-1zM1214 316h1v1h-1zM1458 316h1v1h-1zM1215 317h1v1h-1zM1457 317h1v1h-1zM1215 318h1v1h-1zM1457 318h1v1h-1zM1216 319h1v1h-1zM1456 319h1v1h-1zM1216 320h1v1h-1zM1456 320h1v1h-1zM1217 321h1v1h-1zM1455 321h1v1h-1zM1217 322h1v1h-1zM1455 322h1v1h-1zM1218 323h1v1h-1zM1454 323h1v1h-1zM1218 324h1v1h-1zM1454 324h1v1h-1zM1219 325h1v1h-1zM1453 325h1v1h-1zM1219 326h1v1h-1zM1453 326h1v1h-1zM1220 327h1v1h-1zM1452 327h1v1h-1zM1220 328h1v1h-1zM1452 328h1v1h-1zM1221 329h1v1h-1zM1451 329h1v1h-1zM1222 330h1v1h-1zM1450 330h1v1h-1zM1222 331h1v1h-1zM1450 331h1v1h-1zM1223 332h1v1h-1zM1449 332h1v1h-1zM1223 333h1v1h-1zM1449 333h1v1h-1zM1224 334h1v1h-1zM1448 334h1v1h-1zM1225 335h1v1h-1zM1447 335h1v1h-1zM1225 336h1v1h-1zM1447 336h1v1h-1zM1226 337h1v1h-1zM1446 337h1v1h-1zM1227 338h1v1h-1zM1445 338h1v1h-1zM1227 339h1v1h-1zM1445 339h1v1h-1zM1228 340h1v1h-1zM1444 340h1v1h-1zM1229 341h1v1h-1zM1443 341h1v1h-1zM1229 342h1v1h-1zM1443 342h1v1h-1zM1230 343h1v1h-1zM1442 343h1v1h-1zM1231 344h1v1h-1zM1441 344h1v1h-1zM1232 345h1v1h-1zM1440 345h1v1h-1zM1233 346h1v1h-1zM1439 346h1v1h-1zM1233 347h1v1h-1zM1439 347h1v1h-1zM1234 348h1v1h-1zM1438 348h1v1h-1zM1235 349h1v1h-1zM1437 349h1v1h-1zM1236 350h1v1h-1zM1436 350h1v1h-1zM1237 351h1v1h-1zM1435 351h1v1h-1zM1238 352h1v1h-1zM1434 352h1v1h-1zM1239 353h1v1h-1zM1433 353h1v1h-1zM1239 354h1v1h-1zM1433 354h1v1h-1zM1240 355h1v1h-1zM1432 355h1v1h-1zM1241 356h1v1h-1zM1431 356h1v1h-1zM1242 357h1v1h-1zM1430 357h1v1h-1zM1243 358h1v1h-1zM1429 358h1v1h-1zM1244 359h1v1h-1zM1428 359h1v1h-1zM1245 360h2v1h-2zM1426 360h2v1h-2zM1247 361h1v1h-1zM1425 361h1v1h-1zM1248 362h1v1h-1zM1424 362h1v1h-1zM1249 363h1v1h-1zM1423 363h1v1h-1zM1250 364h1v1h-1zM1422 364h1v1h-1zM1251 365h1v1h-1zM1421 365h1v1h-1zM1252 366h2v1h-2zM1419 366h2v1h-2zM1254 367h1v1h-1zM1418 367h1v1h-1zM1255 368h1v1h-1zM1417 368h1v1h-1zM1256 369h1v1h-1zM1416 369h1v1h-1zM1257 370h2v1h-2zM1414 370h2v1h-2zM1259 371h1v1h-1zM1413 371h1v1h-1zM1260 372h2v1h-2zM1411 372h2v1h-2zM1262 373h1v1h-1zM1410 373h1v1h-1zM1263 374h2v1h-2zM1408 374h2v1h-2zM1265 375h1v1h-1zM1407 375h1v1h-1zM1266 376h2v1h-2zM1405 376h2v1h-2zM1268 377h2v1h-2zM1403 377h2v1h-2zM1270 378h1v1h-1zM1402 378h1v1h-1zM1271 379h2v1h-2zM1400 379h2v1h-2zM1273 380h2v1h-2zM1398 380h2v1h-2zM1275 381h2v1h-2zM1396 381h2v1h-2zM1277 382h2v1h-2zM1394 382h2v1h-2zM1279 383h2v1h-2zM1392 383h2v1h-2zM1281 384h2v1h-2zM1390 384h2v1h-2zM1283 385h3v1h-3zM1387 385h3v1h-3zM1286 386h2v1h-2zM1385 386h2v1h-2zM1288 387h3v1h-3zM1382 387h3v1h-3zM1291 388h3v1h-3zM1379 388h3v1h-3zM1294 389h3v1h-3zM1376 389h3v1h-3zM1297 390h3v1h-3zM1373 390h3v1h-3zM1300 391h4v1h-4zM1369 391h4v1h-4zM1304 392h4v1h-4zM1365 392h4v1h-4zM1308 393h5v1h-5zM1360 393h5v1h-5zM1313 394h6v1h-6zM1354 394h6v1h-6zM1319 395h11v1h-11zM1343 395h11v1h-11zM1330 396h13v1h-13z" fill="#000" shape-rendering="crispEdges"/>
<rect x="1282" y="186" width="271" height="1" fill="#f0f"/>
<rect x="1282" y="186" width="1" height="294" fill="#f0f"/>
<polygon points="1223.50,211.40 1226.90,220.20 1234.10,220.70 1228.40,225.00 1231.10,234.00 1223.50,228.60 1215.90,234.00 1218.60,225.00 1212.90,220.70 1220.10,220.20" fill="#f00"/>
<text transform="translate(1224.0,242.9) scale(1,0.92)" font-family="Liberation Serif, serif" font-weight="bold" font-size="15" text-anchor="middle">4136</text>
<polygon points="1246.50,276.40 1249.90,285.20 1257.10,285.70 1251.40,290.00 1254.10,299.00 1246.50,293.60 1238.90,299.00 1241.60,290.00 1235.90,285.70 1243.10,285.20" fill="#f00"/>
<text transform="translate(1247.0,307.9) scale(1,0.92)" font-family="Liberation Serif, serif" font-weight="bold" font-size="15" text-anchor="middle">4135</text>
<polygon points="1383.50,216.40 1386.90,225.20 1394.10,225.70 1388.40,230.00 1391.10,239.00 1383.50,233.60 1375.90,239.00 1378.60,230.00 1372.90,225.70 1380.10,225.20" fill="#f00"/>
<text transform="translate(1384.0,247.9) scale(1,0.92)" font-family="Liberation Serif, serif" font-weight="bold" font-size="15" text-anchor="middle">4137</text>
<polygon points="1458.50,200.40 1461.90,209.20 1469.10,209.70 1463.40,214.00 1466.10,223.00 1458.50,217.60 1450.90,223.00 1453.60,214.00 1447.90,209.70 1455.10,209.20" fill="#f00"/>
<text transform="translate(1459.0,231.9) scale(1,0.92)" font-family="Liberation Serif, serif" font-weight="bold" font-size="15" text-anchor="middle">4125</text>
<polygon points="1438.50,277.40 1441.90,286.20 1449.10,286.70 1443.40,291.00 1446.10,300.00 1438.50,294.60 1430.90,300.00 1433.60,291.00 1427.90,286.70 1435.10,286.20" fill="#f00"/>
<text transform="translate(1439.0,308.9) scale(1,0.92)" font-family="Liberation Serif, serif" font-weight="bold" font-size="15" text-anchor="middle">4130</text>
<polygon points="1442.00,305.40 1445.40,314.20 1452.60,314.70 1446.90,319.00 1449.60,328.00 1442.00,322.60 1434.40,328.00 1437.10,319.00 1431.40,314.70 1438.60,314.20" fill="#f00"/>
<text transform="translate(1442.5,336.9) scale(1,0.92)" font-family="Liberation Serif, serif" font-weight="bold" font-size="15" text-anchor="middle">4134</text>
</svg>
</body></html>
